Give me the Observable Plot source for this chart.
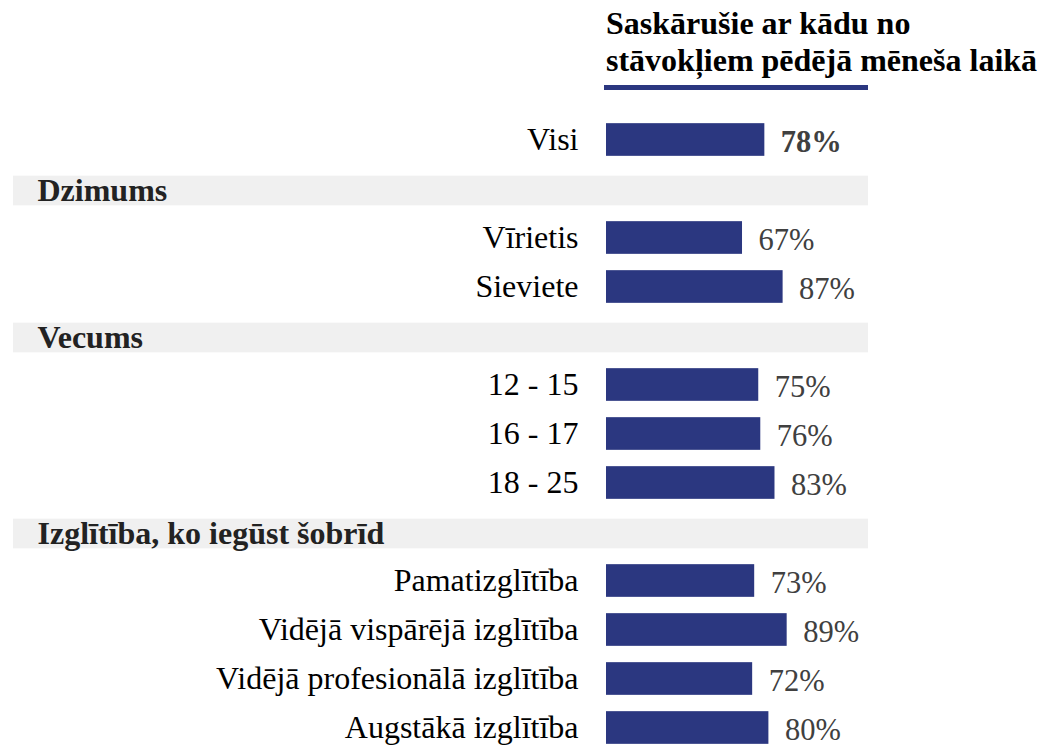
<!DOCTYPE html>
<html>
<head>
<meta charset="utf-8">
<script src="https://cdn.jsdelivr.net/npm/d3@7"></script>
<script src="https://cdn.jsdelivr.net/npm/@observablehq/plot@0.6"></script>
<style>
  html, body { margin: 0; padding: 0; background: #fff; }
  #wrap { position: relative; width: 1042px; height: 745px; overflow: hidden; font-family: "Liberation Serif", "Times New Roman", serif; }
  #title { position: absolute; left: 606px; top: 5px; font-size: 32px; line-height: 36.5px; font-weight: bold; color: #000; white-space: nowrap; }
  #rule { position: absolute; left: 604px; top: 85px; width: 264px; height: 5px; background: #2b3780; }
  #chart { position: absolute; left: 0; top: 0; }
</style>
</head>
<body>
<div id="wrap">
  <div id="chart"></div>
  <div id="title">Saskārušie ar kādu no<br>stāvokļiem pēdējā mēneša laikā</div>
  <div id="rule"></div>
</div>
<script>
const rowLabels = ["Visi", "Dzimums", "Vīrietis", "Sieviete", "Vecums", "12 - 15", "16 - 17", "18 - 25",
  "Izglītība, ko iegūst šobrīd", "Pamatizglītība", "Vidējā vispārējā izglītība", "Vidējā profesionālā izglītība", "Augstākā izglītība"];
const rowKinds = ["total", "header", "item", "item", "header", "item", "item", "item",
  "header", "item", "item", "item", "item"];
const rowValues = [78, null, 67, 87, null, 75, 76, 83, null, 73, 89, 72, 80];

const rows = rowLabels.map((label, i) => ({id: i, label, kind: rowKinds[i], value: rowValues[i]}));
const headers = rows.filter(d => d.kind === "header");
const bars = rows.filter(d => d.kind !== "header");
const totals = rows.filter(d => d.kind === "total");
const items = rows.filter(d => d.kind === "item");

const step = 49.33;
const y0 = 137.5 - step / 2;
const barInset = (step - 33) / 2;

const chart = Plot.plot({
  width: 1042,
  height: 745,
  marginLeft: 13,
  marginRight: 174,
  marginTop: 0,
  marginBottom: 0,
  style: {fontFamily: '"Liberation Serif", "Times New Roman", serif', background: "transparent"},
  x: {domain: [0, 100], range: [606, 809], axis: null},
  y: {domain: rows.map(d => d.id), range: [y0, y0 + step * rows.length], padding: 0, axis: null},
  marks: [
    Plot.cell(headers, {y: "id", fill: "#f0f0f0", insetTop: (step - 30) / 2 + 2, insetBottom: (step - 30) / 2 - 2}),
    Plot.text(headers, {y: "id", text: "label", frameAnchor: "left", dx: 24, dy: 1.5, textAnchor: "start",
      fontSize: 32, fontWeight: "bold", fill: "#222"}),
    Plot.barX(bars, {x: "value", y: "id", fill: "#2b3780", insetTop: barInset, insetBottom: barInset}),
    Plot.text(bars, {x: 0, y: "id", text: "label", dx: -28, textAnchor: "end", fontSize: 32, fill: "#000"}),
    Plot.text(items, {x: "value", y: "id", text: d => d.value + "%", dx: 16, dy: 2, textAnchor: "start",
      fontSize: 30.5, fill: "#404040"}),
    Plot.text(totals, {x: "value", y: "id", text: d => d.value + "%", dx: 16, dy: 2, textAnchor: "start",
      fontSize: 30.5, fontWeight: "bold", fill: "#404040"})
  ]
});
document.getElementById("chart").appendChild(chart);
</script>
</body>
</html>
